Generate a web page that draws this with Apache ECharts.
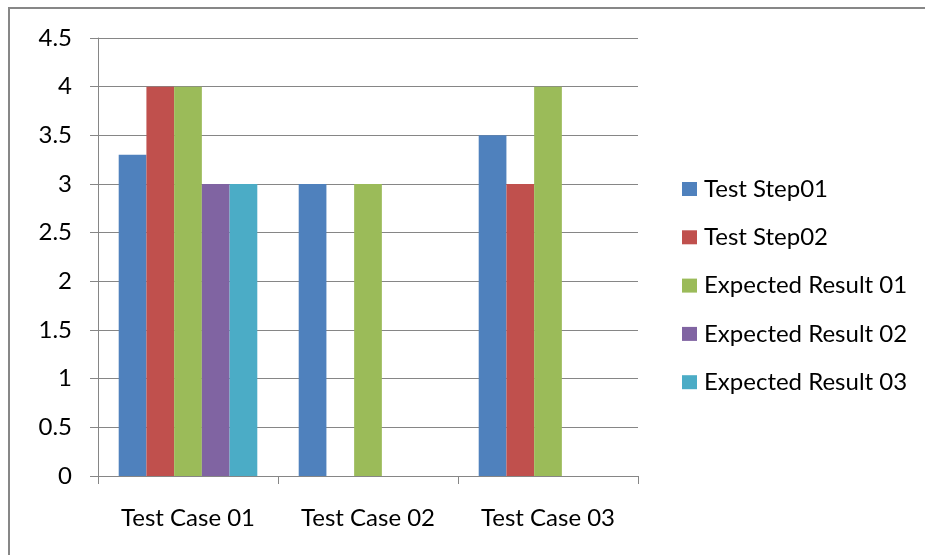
<!DOCTYPE html>
<html>
<head>
<meta charset="utf-8">
<script src="https://cdn.jsdelivr.net/npm/echarts@6/dist/echarts.min.js"></script>
<style>
  html, body { margin: 0; padding: 0; background: #fff; }
  #chart { width: 925px; height: 555px; }
</style>
</head>
<body>
<div id="chart"></div>
<script>
// Categories and series values
const categories = ['Test Case 01', 'Test Case 02', 'Test Case 03'];
const seriesNames = ['Test Step01', 'Test Step02', 'Expected Result 01', 'Expected Result 02', 'Expected Result 03'];
const testStep01 = [3.3, 3, 3.5];
const testStep02 = [4, null, 3];
const expectedResult01 = [4, 3, 4];
const expectedResult02 = [3, null, null];
const expectedResult03 = [3, null, null];
const yTicks = { min: 0, max: 4.5, interval: 0.5 };

const palette = ['#4F81BD', '#C0504D', '#9BBB59', '#8064A2', '#4BACC6'];
const values = [testStep01, testStep02, expectedResult01, expectedResult02, expectedResult03];
const font = 'Lato, "Open Sans", sans-serif';
const gray = '#868686';

const chart = echarts.init(document.getElementById('chart'), null, { renderer: 'canvas' });

chart.setOption({
  animation: false,
  backgroundColor: '#fff',
  color: palette,
  grid: { left: 98, right: 287, top: 38, bottom: 79 },
  legend: {
    orient: 'vertical',
    left: 677,
    top: 172,
    itemWidth: 15,
    itemHeight: 14,
    itemGap: 24.3,
    icon: 'rect',
    textStyle: { fontFamily: font, fontSize: 24, color: '#000', lineHeight: 24, padding: [0, 0, 0, 2] },
    data: seriesNames
  },
  xAxis: {
    type: 'category',
    data: categories,
    axisLine: { lineStyle: { color: gray, width: 1 } },
    axisTick: { show: true, length: 8, lineStyle: { color: gray } },
    axisLabel: { fontFamily: font, fontSize: 24, color: '#000', margin: 30 }
  },
  yAxis: {
    type: 'value',
    min: yTicks.min,
    max: yTicks.max,
    interval: yTicks.interval,
    axisLine: { show: true, lineStyle: { color: gray, width: 1 } },
    axisTick: { show: true, length: 8, lineStyle: { color: gray } },
    splitLine: { lineStyle: { color: gray, width: 1 } },
    axisLabel: { fontFamily: font, fontSize: 24, color: '#000', margin: 26 }
  },
  series: seriesNames.map((name, i) => ({
    name,
    type: 'bar',
    data: values[i],
    barGap: 0,
    barCategoryGap: '23%',
    itemStyle: { color: palette[i] }
  })),
  graphic: [
    {
      type: 'rect',
      silent: true,
      shape: { x: 9, y: 8, width: 1000, height: 1000 },
      style: { fill: 'none', stroke: '#878787', lineWidth: 2 }
    }
  ]
});
</script>
</body>
</html>
